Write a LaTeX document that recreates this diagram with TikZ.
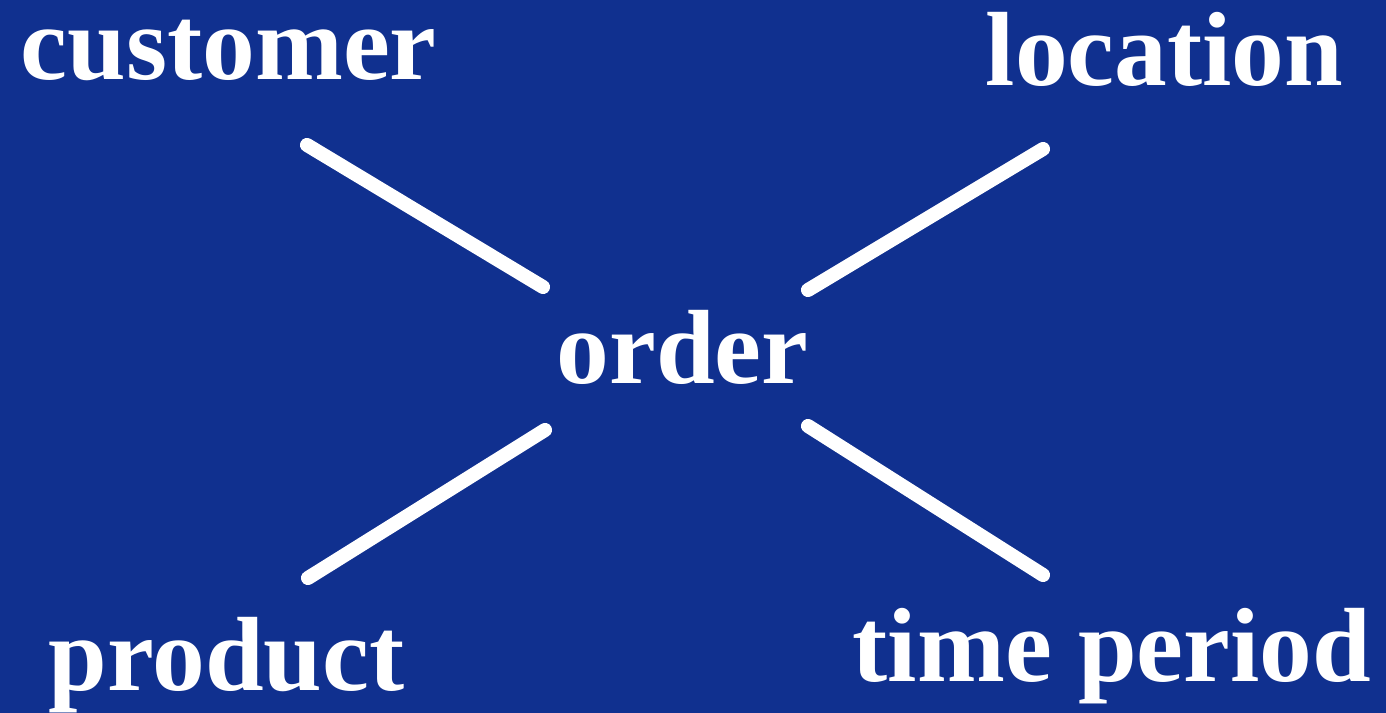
\documentclass[tikz,border=0pt]{standalone}
\usepackage{fontspec}
\setmainfont{Liberation Serif}
\usetikzlibrary{positioning}
\definecolor{bgblue}{RGB}{16,48,143}
\tikzset{
  label/.style={anchor=base west, inner sep=0pt, text=white,
                font=\fontsize{30}{31}\selectfont\bfseries},
  link/.style={line width=4pt, white, line cap=round},
}
\begin{document}
\begin{tikzpicture}[x=0.01cm, y=-0.01cm]
\fill[bgblue] (0,0) rectangle (1386,713);
% labels
\node[label] (customer) at (20,80) {customer};
\node[label] (location) at (985,86) {location};
\node[label] (order)    at (556,384) {order};
\node[label] (product)  at (48,690) {product};
\node[label] (period)   at (852,681) {time period};
% line ends
\coordinate (cA) at (307,145);
\coordinate (oA) at (543,287);
\coordinate (lB) at (1043,149);
\coordinate (oB) at (808,290);
\coordinate (pC) at (308,578);
\coordinate (oC) at (545,430);
\coordinate (tD) at (1043,575);
\coordinate (oD) at (808,426);
\draw[link] (cA) -- (oA);
\draw[link] (lB) -- (oB);
\draw[link] (pC) -- (oC);
\draw[link] (tD) -- (oD);
\end{tikzpicture}
\end{document}
